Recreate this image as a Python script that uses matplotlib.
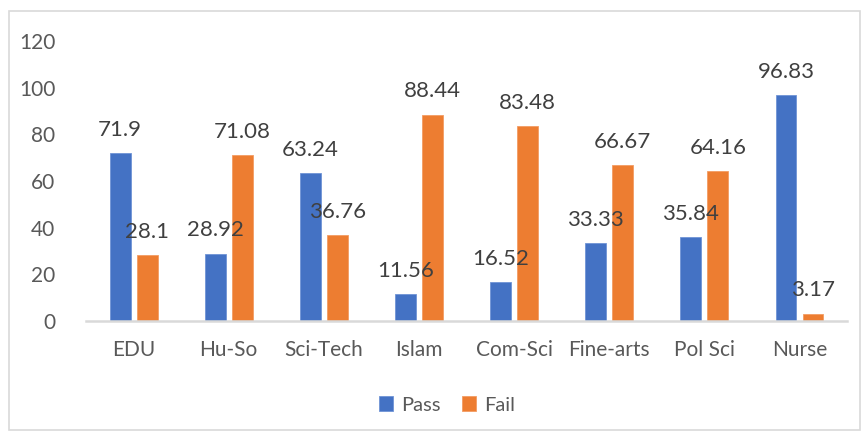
import matplotlib.pyplot as plt
from matplotlib.patches import Rectangle
import numpy as np

# --- Data ---
faculties = ['EDU', 'Hu-So', 'Sci-Tech', 'Islam', 'Com-Sci', 'Fine-arts', 'Pol Sci', 'Nurse']
pass_pct = [71.9, 28.92, 63.24, 11.56, 16.52, 33.33, 35.84, 96.83]
fail_pct = [28.1, 71.08, 36.76, 88.44, 83.48, 66.67, 64.16, 3.17]
pass_text = ['71.9', '28.92', '63.24', '11.56', '16.52', '33.33', '35.84', '96.83']
fail_text = ['28.1', '71.08', '36.76', '88.44', '83.48', '66.67', '64.16', '3.17']

BLUE = '#4472C4'
ORANGE = '#ED7D31'
TICK_GREY = '#595959'
LABEL_GREY = '#404040'

plt.rcParams['font.family'] = ['Lato', 'DejaVu Sans']

fig = plt.figure(figsize=(8.63, 4.32), dpi=100)
ax = fig.add_axes([0.0997, 0.257, 0.8818, 0.648])

# chart area outline
fig.patches.append(Rectangle((9 / 863, 2 / 432), 851 / 863, 419 / 432,
                             transform=fig.transFigure, fill=False,
                             edgecolor='#D9D9D9', linewidth=1.2))

x = np.arange(len(faculties))
w = 0.22
off = 0.142
b1 = ax.bar(x - off, pass_pct, w, color=BLUE, label='Pass',
            edgecolor='#6F94D6', linewidth=0.6)
b2 = ax.bar(x + off, fail_pct, w, color=ORANGE, label='Fail',
            edgecolor='#F39C63', linewidth=0.6)

for bars, texts in ((b1, pass_text), (b2, fail_text)):
    for rect, t in zip(bars, texts):
        ax.annotate(t, (rect.get_x() + rect.get_width() / 2, rect.get_height()),
                    xytext=(0, 12.5), textcoords='offset points',
                    ha='center', va='baseline', fontsize=16, color=LABEL_GREY)

ax.set_xlim(-0.5, len(faculties) - 0.5)
ax.set_ylim(0, 120)
ax.set_yticks(range(0, 121, 20))
ax.set_xticks(x)
ax.set_xticklabels(faculties)
ax.tick_params(axis='both', length=0, labelsize=15, colors=TICK_GREY)
ax.tick_params(axis='y', pad=22)
ax.tick_params(axis='x', pad=14)

for side in ('top', 'right', 'left'):
    ax.spines[side].set_visible(False)
ax.spines['bottom'].set_color('#D9D9D9')
ax.spines['bottom'].set_linewidth(1.8)

leg = fig.legend(loc='center', bbox_to_anchor=(447 / 863, 1 - 405 / 432),
                 ncol=2, frameon=False, fontsize=14.5, handlelength=0.7,
                 handleheight=0.7, handletextpad=0.4, columnspacing=1.1)
for txt in leg.get_texts():
    txt.set_color(TICK_GREY)

fig.savefig('out.png', dpi=100)
